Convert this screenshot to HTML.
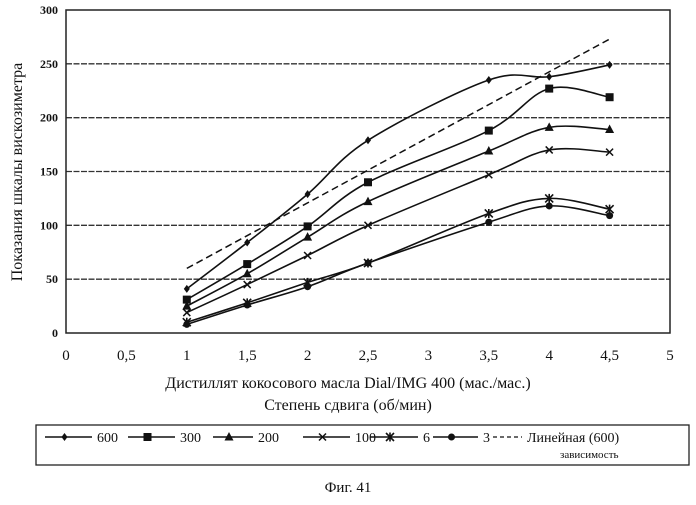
<!DOCTYPE html>
<html><head><meta charset="utf-8"><style>
body{margin:0;background:#fff;width:696px;height:500px;overflow:hidden}
svg text{font-family:"Liberation Serif",serif;fill:#111}
</style></head><body>
<svg id="chart" width="696" height="500" viewBox="0 0 696 500" xmlns="http://www.w3.org/2000/svg"></svg>
<script>
const categories=[1,1.5,2,2.5,3.5,4,4.5];
const s600=[41,84,129,179,235,238,249];
const s300=[31,64,99,140,188,227,219];
const s200=[25,55,89,122,169,191,189];
const s100=[19,45,72,100,147,170,168];
const s6=[10,28,47,65,111,125,115];
const s3=[8,26,43,65,103,118,109];
const trendX=[1,4.5];
const trendY=[60,273];
const xTicks=[0,0.5,1,1.5,2,2.5,3,3.5,4,4.5,5];
const xTickLabels=["0","0,5","1","1,5","2","2,5","3","3,5","4","4,5","5"];
const yTicks=[0,50,100,150,200,250,300];
const legendLabels=["600","300","200","100","6","3"];

const svg=document.getElementById('chart');
const NS="http://www.w3.org/2000/svg";
const L=66,R=670,T=10,B=333;
const X=v=>L+(v/5)*(R-L);
const Y=v=>B-(v/300)*(B-T);
function mk(tag,attrs,parent){const e=document.createElementNS(NS,tag);for(const k in attrs)e.setAttribute(k,attrs[k]);(parent||svg).appendChild(e);return e;}

yTicks.forEach(t=>{
  if(t>0&&t<300){const g=mk('line',{x1:L,x2:R,y1:Y(t),y2:Y(t),stroke:'#333','stroke-width':1.3,'stroke-dasharray':'6,1.5'});
  
  }
  const tx=mk('text',{x:L-8,y:Y(t)+4,'text-anchor':'end','font-size':12,'font-weight':'bold','font-family':'Liberation Sans'});
  tx.textContent=t;
  
  
});
const frame=mk('rect',{x:L,y:T,width:R-L,height:B-T,fill:'none',stroke:'#222','stroke-width':1.5});


xTicks.forEach((t,i)=>{
  const tx=mk('text',{x:X(t),y:360,'text-anchor':'middle','font-size':15});
  tx.textContent=xTickLabels[i];
  
  
});
function smooth(pts){let d=`M${pts[0][0]},${pts[0][1]}`;for(let i=0;i<pts.length-1;i++){const p0=pts[i-1]||pts[i],p1=pts[i],p2=pts[i+1],p3=pts[i+2]||p2;const c1=[p1[0]+(p2[0]-p0[0])/6,p1[1]+(p2[1]-p0[1])/6],c2=[p2[0]-(p3[0]-p1[0])/6,p2[1]-(p3[1]-p1[1])/6];d+=` C${c1[0]},${c1[1]} ${c2[0]},${c2[1]} ${p2[0]},${p2[1]}`;}return d;}
function marker(type,x,y,parent){
  if(type==='diamond')return mk('path',{d:`M${x},${y-4}L${x+3},${y}L${x},${y+4}L${x-3},${y}Z`,fill:'#111'},parent);
  if(type==='square')return mk('rect',{x:x-4,y:y-4,width:8,height:8,fill:'#111'},parent);
  if(type==='triangle')return mk('path',{d:`M${x},${y-5}L${x+4.5},${y+3.5}L${x-4.5},${y+3.5}Z`,fill:'#111'},parent);
  if(type==='x')return mk('path',{d:`M${x-3.5},${y-3.5}L${x+3.5},${y+3.5}M${x+3.5},${y-3.5}L${x-3.5},${y+3.5}`,stroke:'#111','stroke-width':1.5},parent);
  if(type==='star')return mk('path',{d:`M${x-4},${y-4}L${x+4},${y+4}M${x+4},${y-4}L${x-4},${y+4}M${x},${y-4.5}L${x},${y+4.5}`,stroke:'#111','stroke-width':1.6},parent);
  return mk('circle',{cx:x,cy:y,r:3.5,fill:'#111'},parent);
}
const series=[[s600,'diamond','600'],[s300,'square','300'],[s200,'triangle','200'],[s100,'x','100'],[s6,'star','6'],[s3,'circle','3']];
series.forEach(([vals,m,name])=>{
  const g=mk('g',{});
  
  
  const pts=categories.map((c,i)=>[X(c),Y(vals[i])]);
  mk('path',{d:smooth(pts),fill:'none',stroke:'#111','stroke-width':1.6},g);
  pts.forEach(p=>{const e=marker(m,p[0],p[1],g);
    
    });
});
const tl=mk('line',{x1:X(trendX[0]),y1:Y(trendY[0]),x2:X(trendX[1]),y2:Y(trendY[1]),stroke:'#111','stroke-width':1.5,'stroke-dasharray':'7,4'});



function txt(s,attrs,name){const t=mk('text',attrs);t.textContent=s;return t;}
txt('Показания шкалы вискозиметра',{x:0,y:0,transform:'translate(22,172) rotate(-90)','text-anchor':'middle','font-size':16},'y-axis-title');
txt('Дистиллят кокосового масла Dial/IMG 400 (мас./мас.)',{x:348,y:388,'text-anchor':'middle','font-size':16},'x-axis-title');
txt('Степень сдвига (об/мин)',{x:348,y:410,'text-anchor':'middle','font-size':16},'x-axis-subtitle');

const lg=mk('g',{});


mk('rect',{x:36,y:425,width:653,height:40,fill:'none',stroke:'#222','stroke-width':1.3},lg);
const lx=[45,128,213,303,370,433];
const lw=[47,47,40,47,48,45];
series.forEach(([v,m,name],i)=>{
  const x=lx[i],y=437;
  const e=mk('g',{},lg);
  
  
  mk('line',{x1:x,x2:x+lw[i],y1:y,y2:y,stroke:'#111','stroke-width':1.4},e);
  marker(m,x+lw[i]/2-4,y,e);
  const t=mk('text',{x:x+lw[i]+5,y:y+5,'font-size':14},e);t.textContent=legendLabels[i];
});
const te=mk('g',{},lg);


mk('line',{x1:493,x2:522,y1:437,y2:437,stroke:'#111','stroke-width':1.3,'stroke-dasharray':'4,3'},te);
const t1=mk('text',{x:527,y:442,'font-size':14},te);t1.textContent='Линейная (600)';
const t2=mk('text',{x:560,y:458,'font-size':11},te);t2.textContent='зависимость';
txt('Фиг. 41',{x:348,y:492,'text-anchor':'middle','font-size':15},'figure-caption');
</script>
</body></html>
